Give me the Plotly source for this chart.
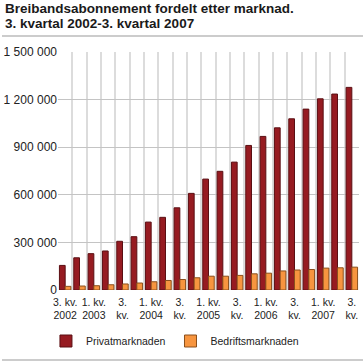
import plotly.graph_objects as go

quarters = ["3. kv. 2002", "4. kv. 2002", "1. kv. 2003", "2. kv. 2003", "3. kv. 2003",
            "4. kv. 2003", "1. kv. 2004", "2. kv. 2004", "3. kv. 2004", "4. kv. 2004",
            "1. kv. 2005", "2. kv. 2005", "3. kv. 2005", "4. kv. 2005", "1. kv. 2006",
            "2. kv. 2006", "3. kv. 2006", "4. kv. 2006", "1. kv. 2007", "2. kv. 2007",
            "3. kv. 2007"]
tick_labels = ["3. kv.<br>2002", "", "1. kv.<br>2003", "", "3.<br>kv.", "",
               "1. kv.<br>2004", "", "3.<br>kv.", "", "1. kv.<br>2005", "",
               "3.<br>kv.", "", "1. kv.<br>2006", "", "3.<br>kv.", "",
               "1. kv.<br>2007", "", "3.<br>kv."]
privat = [155000, 203000, 229000, 246000, 307000, 336000, 428000, 458000, 518000,
          609000, 699000, 748000, 806000, 911000, 968000, 1022000, 1079000, 1140000,
          1205000, 1235000, 1277000]
bedrift = [23000, 25000, 27000, 33000, 38000, 44000, 52000, 60000, 66000, 77000,
           87000, 87000, 92000, 102000, 106000, 120000, 126000, 129000, 138000,
           140000, 144000]
y_ticks = [0, 300000, 600000, 900000, 1200000, 1500000]
title_lines = ["Breibandsabonnement fordelt etter marknad.",
               "3. kvartal 2002-3. kvartal 2007"]

FONT = "Liberation Sans, Arial, sans-serif"
PLOT_TOP, PLOT_BOTTOM = 52, 290
PH = PLOT_BOTTOM - PLOT_TOP
PW = 363 - 56 - 4


def py(px):
    return (PLOT_BOTTOM - px) / PH


def px_(x):
    return (x - 56) / PW


fig = go.Figure()
fig.add_trace(go.Bar(x=quarters, y=privat, name="Privatmarknaden",
                     marker=dict(color="#961b21", line=dict(color="#5a0f13", width=1))))
fig.add_trace(go.Bar(x=quarters, y=bedrift, name="Bedriftsmarknaden",
                     marker=dict(color="#f7953f", line=dict(color="#8a4f1c", width=1))))

annotations = []
for i, line in enumerate(title_lines):
    annotations.append(dict(text="<b>%s</b>" % line, xref="paper", yref="paper",
                            x=px_(0), xanchor="left", xshift=1,
                            y=py(8.5 + 15 * i), yanchor="middle", showarrow=False,
                            font=dict(family=FONT, size=13.5, color="#1a1a1a")))
# thin grey separator rules above and below the chart
for yline in (36, 360):
    annotations.append(dict(text="&nbsp;", xref="paper", yref="paper",
                            x=px_(0), xanchor="left", y=py(yline), yanchor="middle",
                            width=363, height=2, borderpad=0, borderwidth=0,
                            bgcolor="#cccccc", showarrow=False,
                            font=dict(size=2)))

shapes = [dict(type="rect", xref="paper", yref="paper", x0=px_(0), x1=px_(363),
               y0=py(yline - 1), y1=py(yline + 1), fillcolor="#cccccc",
               line=dict(width=0), layer="above")
          for yline in (36, 360)]

fig.update_layout(
    width=363, height=363,
    margin=dict(l=56, r=4, t=PLOT_TOP, b=363 - PLOT_BOTTOM),
    paper_bgcolor="white", plot_bgcolor="white",
    barmode="group", bargap=0.2, bargroupgap=0,
    separators=", ",
    font=dict(family=FONT, size=12, color="#222"),
    annotations=annotations,
    shapes=shapes,
    showlegend=True,
    legend=dict(orientation="h", x=-0.04, xanchor="left", y=py(341), yanchor="middle",
                font=dict(size=10.5, color="#222"), itemclick=False,
                traceorder="normal"),
    xaxis=dict(type="category", tickmode="array", tickvals=quarters, ticktext=tick_labels,
               tickson="boundaries", ticks="", showgrid=True, gridcolor="#dcdcdc",
               gridwidth=2, tickfont=dict(size=10.5), showline=False,
               ticklabelstandoff=4,
               range=[-0.5, 20.5], tickangle=0),
    yaxis=dict(range=[0, 1500000], tickmode="array", tickvals=y_ticks,
               tickformat=",d", showgrid=True, gridcolor="#c4c4c4", gridwidth=1,
               zeroline=False, showline=False, ticks="", tickfont=dict(size=12)),
)

fig.write_html("out.html", config={"displayModeBar": False},
               post_script="document.body.style.margin='0';")
